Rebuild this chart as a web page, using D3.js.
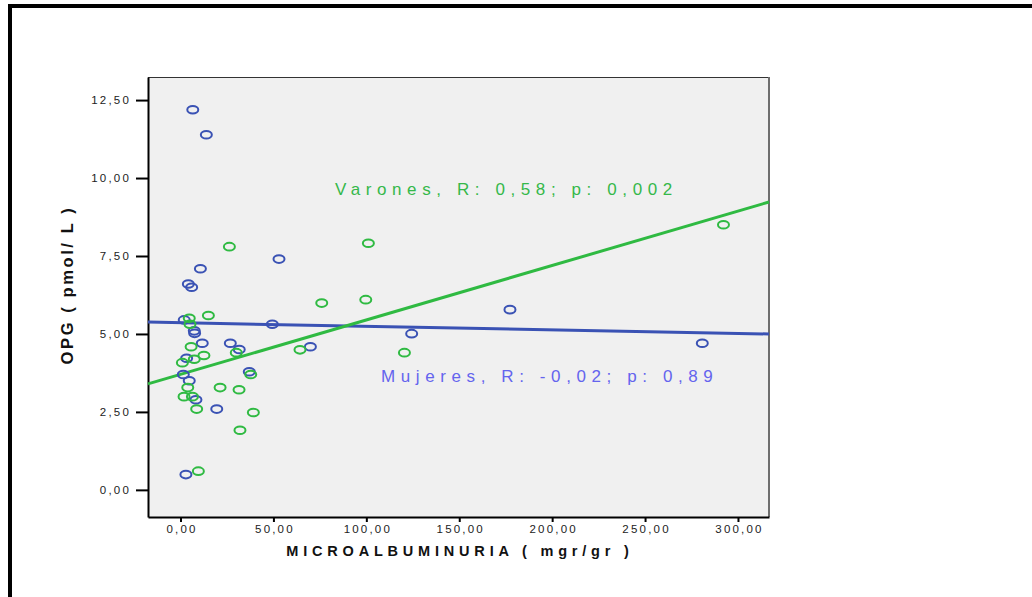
<!DOCTYPE html>
<html>
<head>
<meta charset="utf-8">
<script src="https://cdn.jsdelivr.net/npm/d3@7"></script>
<style>
  html, body { margin: 0; padding: 0; background: #ffffff; }
  svg { display: block; font-family: Arial, "Liberation Sans", sans-serif; }
</style>
</head>
<body>
<svg id="chart" width="1032" height="597"></svg>
<script>
// Mujeres (women): microalbuminuria (mg/g) vs OPG (pmol/L)
const mujeresX = [6.6, 13.9, 10.7, 4.2, 6.0, 53.0, 2.0, 7.4, 7.6, 11.7, 26.8, 31.6, 3.3, 1.5, 4.7, 8.3, 19.5, 37.0, 2.9, 49.4, 69.9, 124.4, 177.3, 280.8];
const mujeresY = [12.19, 11.39, 7.09, 6.60, 6.50, 7.40, 5.45, 5.10, 5.02, 4.70, 4.70, 4.50, 4.22, 3.70, 3.50, 2.89, 2.59, 3.79, 0.49, 5.31, 4.59, 5.01, 5.78, 4.70];

// Varones (men): microalbuminuria (mg/g) vs OPG (pmol/L)
const varonesX = [26.3, 4.7, 5.1, 15.0, 5.7, 1.0, 7.4, 12.6, 30.0, 37.8, 3.9, 21.3, 31.5, 1.9, 6.4, 8.7, 39.2, 32.0, 9.6, 64.3, 76.0, 99.7, 101.1, 120.5, 292.2];
const varonesY = [7.80, 5.50, 5.31, 5.59, 4.59, 4.08, 4.19, 4.31, 4.40, 3.70, 3.28, 3.28, 3.21, 2.99, 2.99, 2.59, 2.48, 1.91, 0.60, 4.49, 5.99, 6.10, 7.91, 4.40, 8.50];

// Linear fit lines: [intercept, slope]
const fitVarones = [3.705, 0.01745];
const fitMujeres = [5.36, -0.00114];

// Axis ticks
const xTicks = [0, 50, 100, 150, 200, 250, 300];
const yTicks = [0, 2.5, 5, 7.5, 10, 12.5];
const xDomain = [-17.5, 316.7];
const yDomain = [-0.87, 13.24];

const labelVarones = "Varones, R: 0,58; p: 0,002";
const labelMujeres = "Mujeres, R: -0,02; p: 0,89";

const fmt = v => v.toFixed(2).replace(".", ",");

const svg = d3.select("#chart");

// outer frame (top and left edges)
svg.append("rect").attr("x", 8).attr("y", 4).attr("width", 1030).attr("height", 4).attr("fill", "#000");
svg.append("rect").attr("x", 8).attr("y", 4).attr("width", 4).attr("height", 600).attr("fill", "#000");

const plot = { left: 148, right: 769, top: 77, bottom: 517 };

const x = d3.scaleLinear().domain(xDomain).range([plot.left, plot.right]);
const y = d3.scaleLinear().domain(yDomain).range([plot.bottom, plot.top]);

// plot background
svg.append("rect")
  .attr("x", plot.left).attr("y", plot.top)
  .attr("width", plot.right - plot.left).attr("height", plot.bottom - plot.top)
  .attr("fill", "#f0f0f0");
svg.append("line")
  .attr("x1", plot.left).attr("x2", plot.right)
  .attr("y1", plot.top + 0.5).attr("y2", plot.top + 0.5)
  .attr("stroke", "#333").attr("stroke-width", 1);
svg.append("line")
  .attr("x1", plot.right).attr("x2", plot.right)
  .attr("y1", plot.top).attr("y2", plot.bottom)
  .attr("stroke", "#6e6e6e").attr("stroke-width", 2);

// axes
const yAxis = d3.axisLeft(y).tickValues(yTicks).tickFormat(fmt).tickSize(12).tickSizeOuter(0).tickPadding(5);
const xAxis = d3.axisBottom(x).tickValues(xTicks).tickFormat(fmt).tickSize(5).tickSizeOuter(0).tickPadding(3);

const gy = svg.append("g").attr("transform", `translate(${plot.left},0)`).call(yAxis);
const gx = svg.append("g").attr("transform", `translate(0,${plot.bottom})`).call(xAxis);

[gy, gx].forEach(g => {
  g.select(".domain").attr("stroke", "#000").attr("stroke-width", 2);
  g.selectAll(".tick line").attr("stroke", "#000").attr("stroke-width", 2);
  g.selectAll(".tick text")
    .attr("fill", "#222")
    .attr("font-size", 11.5)
    .attr("font-family", "Arial, 'Liberation Sans', sans-serif")
    .style("letter-spacing", "2.2px");
});
gx.selectAll(".tick text").attr("dx", "1px");

// fit lines
function fitLine(fit, color) {
  const pts = xDomain.map(v => [x(v), y(fit[0] + fit[1] * v)]);
  svg.append("path")
    .attr("d", d3.line()(pts))
    .attr("fill", "none")
    .attr("stroke", color)
    .attr("stroke-width", 3);
}
fitLine(fitMujeres, "#3a52b4");
fitLine(fitVarones, "#2fba42");

// scatter points as open ellipses
function points(xs, ys, color) {
  svg.append("g").selectAll("ellipse")
    .data(xs.map((v, i) => [v, ys[i]]))
    .join("ellipse")
    .attr("cx", d => x(d[0]))
    .attr("cy", d => y(d[1]))
    .attr("rx", 5.5)
    .attr("ry", 3.8)
    .attr("fill", "none")
    .attr("stroke", color)
    .attr("stroke-width", 2);
}
points(mujeresX, mujeresY, "#3a52b4");
points(varonesX, varonesY, "#2fba42");

// fit annotations
svg.append("text")
  .attr("x", 335).attr("y", 195)
  .attr("fill", "#35b84a")
  .attr("font-size", 17)
  .style("letter-spacing", "5.6px")
  .text(labelVarones);
svg.append("text")
  .attr("x", 381).attr("y", 382)
  .attr("fill", "#6464ee")
  .attr("font-size", 17)
  .style("letter-spacing", "5.6px")
  .text(labelMujeres);

// axis titles
svg.append("text")
  .attr("transform", `translate(73,285) rotate(-90)`)
  .attr("text-anchor", "middle")
  .attr("font-weight", "bold")
  .attr("font-size", 16.5)
  .attr("fill", "#111")
  .style("letter-spacing", "2.6px")
  .text("OPG ( pmol/ L )");
svg.append("text")
  .attr("x", 460).attr("y", 556)
  .attr("text-anchor", "middle")
  .attr("font-weight", "bold")
  .attr("font-size", 14.5)
  .attr("fill", "#111")
  .style("letter-spacing", "4.8px")
  .text("MICROALBUMINURIA ( mgr/gr )");
</script>
</body>
</html>
